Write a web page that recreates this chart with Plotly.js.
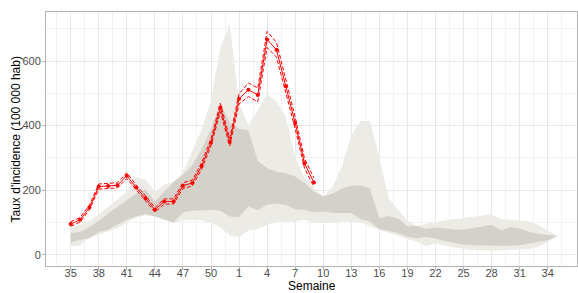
<!DOCTYPE html>
<html>
<head>
<meta charset="utf-8">
<script src="https://cdn.plot.ly/plotly-3.0.1.min.js"></script>
<style>html,body{margin:0;padding:0;background:#fff;}#chart{width:578px;height:293px;}</style>
</head>
<body>
<div id="chart"></div>
<script>
// Week labels (season runs from week 35 to week 34 of the next year)
const semaines = ["35","36","37","38","39","40","41","42","43","44","45","46","47","48","49","50","51","52",
  "1","2","3","4","5","6","7","8","9","10","11","12","13","14","15","16","17","18","19","20",
  "21","22","23","24","25","26","27","28","29","30","31","32","33","34","53"];
const tickLabels = ["35","38","41","44","47","50","1","4","7","10","13","16","19","22","25","28","31","34"];

// Historical seasons: min / max (light band)
const histMin = [26,28,55,62,72,82,100,115,122,118,108,98,106,108,106,98,85,60,
  55,75,80,93,103,103,103,108,100,98,98,103,103,100,88,77,67,59,48,40,26,35,28,22,18,14,12,12,13,15,15,18,25,40,58];
const histMax = [85,92,105,125,148,170,195,240,232,195,217,226,255,322,386,478,643,715,
  470,401,447,499,475,427,300,240,206,180,210,275,370,414,414,300,175,139,105,88,95,102,106,110,113,116,120,125,110,108,108,104,92,75,58];
// Historical seasons: quartiles (dark band)
const histQ1 = [38,46,51,70,77,93,108,118,126,118,108,100,131,137,137,139,136,118,
  116,150,138,155,159,154,141,139,131,134,129,129,129,110,103,80,73,67,56,51,55,50,42,36,32,29,28,27,28,28,29,35,40,45,58];
const histQ3 = [67,71,85,105,128,148,170,190,203,165,195,225,248,277,327,390,470,410,
  390,385,290,268,257,252,242,222,196,180,190,205,214,215,205,113,120,112,88,90,80,84,82,78,77,82,88,93,76,85,82,70,65,62,58];

// Current season: incidence rate and confidence interval
const taux = [95,108,146,211,213,215,245,208,175,139,165,165,214,222,275,348,456,349,483,511,495,667,635,522,408,283,224];
const tauxInf = [88,101,139,203,205,207,236,200,167,132,157,157,205,213,265,337,443,337,467,490,474,642,612,502,390,268,210];
const tauxSup = [102,115,154,219,221,223,254,216,183,146,173,173,223,231,285,359,469,361,499,532,516,692,658,542,426,298,238];

const xAll = semaines.map((s, i) => i);
const xCur = taux.map((v, i) => i);
const tickVals = tickLabels.map(l => semaines.indexOf(l));

const traces = [
  {x: xAll, y: histMin, type: 'scatter', mode: 'lines', line: {width: 0, color: 'rgba(0,0,0,0)'}, hoverinfo: 'skip', showlegend: false},
  {x: xAll, y: histMax, type: 'scatter', mode: 'lines', fill: 'tonexty', fillcolor: '#edebe5', line: {width: 0, color: 'rgba(0,0,0,0)'}, hoverinfo: 'skip', showlegend: false},
  {x: xAll, y: histQ1, type: 'scatter', mode: 'lines', line: {width: 0, color: 'rgba(0,0,0,0)'}, hoverinfo: 'skip', showlegend: false},
  {x: xAll, y: histQ3, type: 'scatter', mode: 'lines', fill: 'tonexty', fillcolor: '#d4d1ca', line: {width: 0, color: 'rgba(0,0,0,0)'}, hoverinfo: 'skip', showlegend: false},
  {x: xCur, y: tauxInf, type: 'scatter', mode: 'lines', line: {color: '#ff0000', width: 1, dash: '4px,2px'}, showlegend: false},
  {x: xCur, y: tauxSup, type: 'scatter', mode: 'lines', line: {color: '#ff0000', width: 1, dash: '4px,2px'}, showlegend: false},
  {x: xCur, y: taux, type: 'scatter', mode: 'lines+markers', line: {color: '#ff0000', width: 1}, marker: {color: '#ff0000', size: 4}, showlegend: false}
];

const layout = {
  width: 578, height: 293,
  margin: {l: 46, r: 1, t: 11.5, b: 27},
  paper_bgcolor: '#ffffff', plot_bgcolor: '#ffffff',
  font: {family: 'Liberation Sans, Arial, sans-serif', size: 11, color: '#4d4d4d'},
  showlegend: false,
  xaxis: {
    range: [-2.64, 54.13],
    tickmode: 'array', tickvals: tickVals, ticktext: tickLabels,
    showgrid: true, gridcolor: '#e8e8e8', gridwidth: 1,
    minor: {tickmode: 'linear', tick0: -1.5, dtick: 3, showgrid: true, gridcolor: '#f2f2f2', gridwidth: 1, ticks: ''},
    zeroline: false,
    showline: true, linecolor: '#b3b3b3', linewidth: 1, mirror: true,
    ticks: 'outside', ticklen: 3, tickcolor: '#b3b3b3',
    ticklabelstandoff: -6,
    tickfont: {size: 11, color: '#4d4d4d'},
    automargin: false
  },
  yaxis: {
    range: [-35, 752],
    tickmode: 'linear', tick0: 0, dtick: 200,
    showgrid: true, gridcolor: '#e8e8e8', gridwidth: 1,
    minor: {tickmode: 'linear', tick0: 100, dtick: 200, showgrid: true, gridcolor: '#f2f2f2', gridwidth: 1, ticks: ''},
    zeroline: false,
    showline: true, linecolor: '#b3b3b3', linewidth: 1, mirror: true,
    ticks: 'outside', ticklen: 3, tickcolor: '#b3b3b3',
    ticklabelstandoff: -1,
    tickfont: {size: 11, color: '#4d4d4d'},
    automargin: false
  },
  annotations: [
    {text: 'Semaine', xref: 'paper', yref: 'paper', x: 0.5, y: -0.08, xanchor: 'center', yanchor: 'middle',
     showarrow: false, font: {size: 12, color: '#000000'}},
    {text: "Taux d'incidence (100 000 hab)", xref: 'paper', yref: 'paper', x: -0.0556, y: 0.5, xanchor: 'center', yanchor: 'middle',
     textangle: -90, showarrow: false, font: {size: 12, color: '#000000'}}
  ]
};

Plotly.newPlot('chart', traces, layout, {displayModeBar: false, staticPlot: true});
</script>
</body>
</html>
